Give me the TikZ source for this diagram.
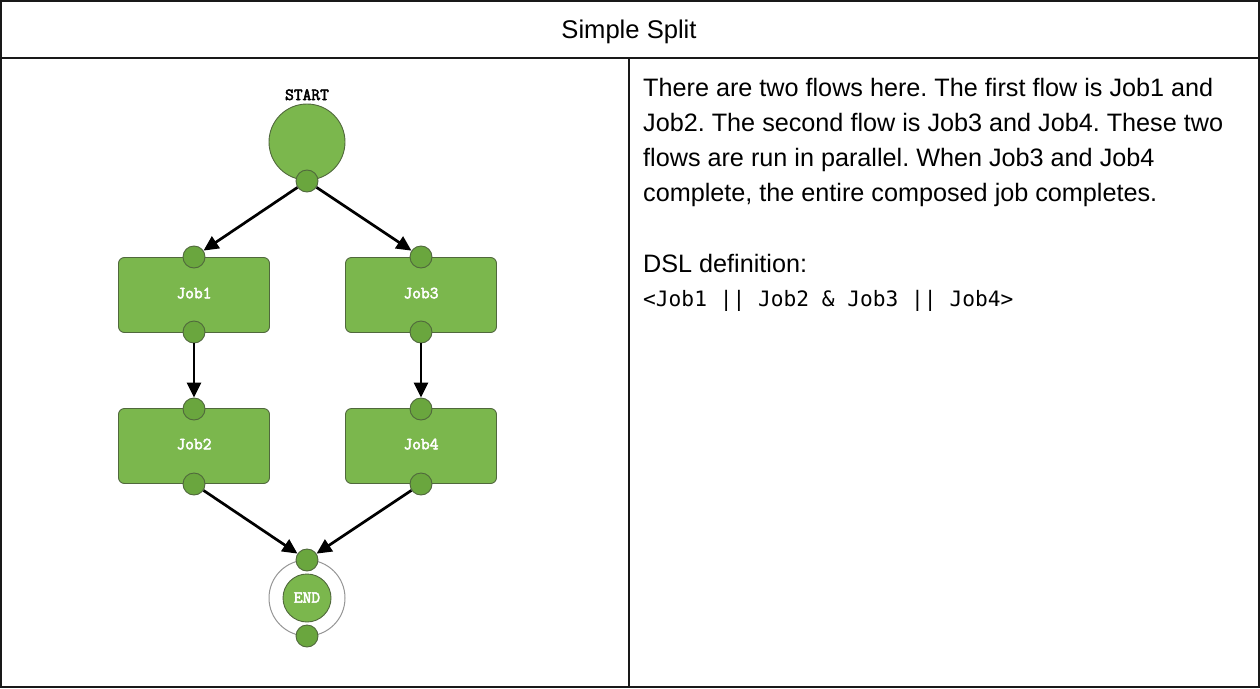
\documentclass[tikz,border=0pt]{standalone}
\usepackage{fontspec}
\setmainfont{Liberation Sans}
\newfontfamily\dslmono{DejaVu Sans Mono}
\newfontfamily\jobfont{Latin Modern Mono}[AutoFakeBold=3]
\usetikzlibrary{arrows.meta}
\definecolor{jobgreen}{RGB}{123,183,77}
\definecolor{portgreen}{RGB}{106,166,62}
\definecolor{jobborder}{RGB}{80,104,60}
\definecolor{endgray}{RGB}{150,150,150}
\tikzset{
  jobfnt/.style={font=\jobfont\bfseries\fontsize{17}{17}\selectfont},
  jobbox/.style={draw=jobborder, fill=jobgreen, line width=0.9pt, rounded corners=6pt,
    minimum width=151pt, minimum height=75pt, inner sep=0pt,
    text=white, jobfnt},
  port/.style={circle, draw=jobborder, fill=portgreen, line width=0.9pt,
    minimum size=22pt, inner sep=0pt},
  bigcirc/.style={circle, draw=jobborder, fill=jobgreen, line width=0.9pt,
    minimum size=76pt, inner sep=0pt},
  flow/.style={line width=2.7pt, -{Triangle[length=15pt,width=14pt]}},
  bodytext/.style={anchor=base west, inner sep=0pt, font=\fontsize{25.2}{35}\selectfont},
}
\begin{document}
\frenchspacing
\begin{tikzpicture}[x=1pt,y=-1pt]
\useasboundingbox (0,0) rectangle (1260,688);
% table
\draw[line width=1.5pt, black!90] (1,1) rectangle (1259,687);
\draw[line width=1.5pt, black!90] (1,58) -- (1259,58);
\draw[line width=1.5pt, black!90] (629,58) -- (629,687);
\node[anchor=base, inner sep=0pt, font=\fontsize{25.6}{27}\selectfont] (title) at (629,38) {Simple Split};
% right text
\node[bodytext] (t1) at (643,96) {There are two flows here. The first flow is Job1 and};
\node[bodytext] (t2) at (643,131) {Job2. The second flow is Job3 and Job4. These two};
\node[bodytext] (t3) at (643,166) {flows are run in parallel. When Job3 and Job4};
\node[bodytext] (t4) at (643,201) {complete, the entire composed job completes.};
\node[bodytext] (t5) at (643,272) {DSL definition:};
\node[anchor=base west, inner sep=0pt, font=\dslmono\fontsize{21.2}{25}\selectfont] (dsl) at (643,306) {<Job1 || Job2 \& Job3 || Job4>};
% start
\node[anchor=base, inner sep=0pt, jobfnt, text=black] (startlbl) at (307,100) {START};
\node[bigcirc] (start) at (307,142) {};
\node[port] (sout) at (307,181) {};
% jobs
\node[jobbox] (job1) at (194,295) {\raisebox{4pt}{Job1}};
\node[jobbox] (job3) at (421,295) {\raisebox{4pt}{Job3}};
\node[jobbox] (job2) at (194,446) {\raisebox{4pt}{Job2}};
\node[jobbox] (job4) at (421,446) {\raisebox{4pt}{Job4}};
\node[port] (j1in) at (194,257) {};
\node[port] (j1out) at (194,332) {};
\node[port] (j3in) at (421,257) {};
\node[port] (j3out) at (421,332) {};
\node[port] (j2in) at (194,409) {};
\node[port] (j2out) at (194,484) {};
\node[port] (j4in) at (421,409) {};
\node[port] (j4out) at (421,484) {};
% end
\node[circle, draw=endgray, fill=white, line width=1pt, minimum size=76pt, inner sep=0pt] (endring) at (307,598) {};
\node[circle, draw=jobborder, fill=jobgreen, line width=0.9pt, minimum size=48pt, inner sep=0pt,
  text=white, jobfnt] (endc) at (307,598) {\raisebox{1pt}{END}};
\node[port] (ein) at (307,560) {};
\node[port] (eout) at (307,636) {};
% connectors
\draw[flow] (sout) -- (j1in);
\draw[flow] (sout) -- (j3in);
\draw[flow] (j1out) -- (j2in);
\draw[flow] (j3out) -- (j4in);
\draw[flow] (j2out) -- (ein);
\draw[flow] (j4out) -- (ein);
\end{tikzpicture}
\end{document}
